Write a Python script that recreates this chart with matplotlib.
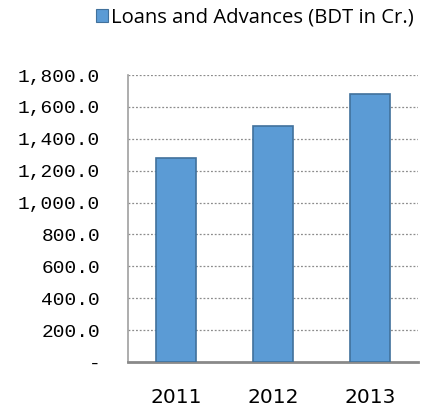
import matplotlib
matplotlib.use("Agg")
import matplotlib.pyplot as plt
from matplotlib.patches import Patch

years = ["2011", "2012", "2013"]
loans = [1278.0, 1478.0, 1679.0]
y_ticks = [0, 200, 400, 600, 800, 1000, 1200, 1400, 1600, 1800]
series_name = "Loans and Advances (BDT in Cr.)"

fig = plt.figure(figsize=(4.25, 4.17), dpi=100)
ax = fig.add_axes([0.301, 0.132, 0.683, 0.688])

x = list(range(len(years)))
ax.bar(x, loans, width=0.41, color="#5B9BD5", edgecolor="#41719C", linewidth=1.2, zorder=3)

ax.set_xlim(-0.5, len(years) - 0.5)
ax.set_ylim(0, 1800)
ax.set_yticks(y_ticks)
ax.set_yticklabels(["-" if v == 0 else f"{v:,.1f}" for v in y_ticks],
                   fontsize=14, family="Liberation Mono")
ax.set_xticks(x)
ax.set_xticklabels(years, fontsize=14.5, family="DejaVu Sans")
ax.tick_params(axis="both", length=0)
ax.tick_params(axis="y", pad=20)
ax.tick_params(axis="x", pad=19)

for v in y_ticks[1:]:
    ax.axhline(v, color="#8C8C8C", linestyle=(0, (1.5, 1.5)), linewidth=0.9, zorder=1)

for side in ["top", "right"]:
    ax.spines[side].set_visible(False)
ax.spines["left"].set_color("#A0A0A0")
ax.spines["left"].set_linewidth(1.2)
ax.spines["bottom"].set_color("#898989")
ax.spines["bottom"].set_linewidth(2)

handle = Patch(facecolor="#5B9BD5", edgecolor="#41719C", linewidth=0.8)
fig.legend([handle], [series_name], loc="upper left", bbox_to_anchor=(96 / 425, 1 - 8 / 417),
           frameon=False, prop={"family": "Open Sans", "size": 14.6},
           borderpad=0, borderaxespad=0,
           handlelength=0.6, handleheight=0.6, handletextpad=0.15)

fig.savefig("out.png", dpi=100)
